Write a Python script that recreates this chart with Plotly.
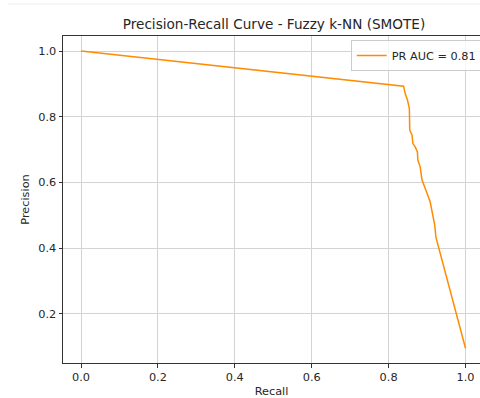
import plotly.graph_objects as go

recall = [0.000, 0.839, 0.843, 0.849, 0.854, 0.855, 0.861, 0.863, 0.869, 0.875,
          0.876, 0.882, 0.887, 0.894, 0.900, 0.908, 0.913, 0.920, 0.923, 1.000]
precision = [1.000, 0.893, 0.871, 0.851, 0.825, 0.759, 0.744, 0.719, 0.708, 0.693,
             0.668, 0.648, 0.607, 0.582, 0.567, 0.541, 0.506, 0.470, 0.433, 0.095]
pr_auc = 0.81
x_ticks = [0.0, 0.2, 0.4, 0.6, 0.8, 1.0]
y_ticks = [0.2, 0.4, 0.6, 0.8, 1.0]

FONT = "DejaVu Sans"
TXT = "#262626"

fig = go.Figure()
fig.add_trace(go.Scatter(
    x=recall, y=precision, mode="lines",
    line=dict(color="#ff8c00", width=1.5),
    name=f"PR AUC = {pr_auc:.2f}",
))

fig.update_layout(
    width=480, height=398,
    margin=dict(l=63, r=0, t=36, b=35, autoexpand=False),
    paper_bgcolor="white", plot_bgcolor="white",
    font=dict(family=FONT, size=11.3, color=TXT),
    title=dict(text="Precision-Recall Curve - Fuzzy k-NN (SMOTE)",
               x=(274 / 480), xanchor="center", y=1 - 24 / 398, yanchor="middle",
               font=dict(family=FONT, size=13.6, color=TXT)),
    showlegend=True,
    legend=dict(x=0.69, y=0.988, xanchor="left", yanchor="top",
                bgcolor="rgba(255,255,255,0.8)", bordercolor="#cccccc", borderwidth=1,
                font=dict(family=FONT, size=11.3, color=TXT),
                itemwidth=30, tracegroupgap=0),
    shapes=[dict(type="line", xref="paper", yref="paper",
                 x0=-0.132, x1=1.0, y0=1 + 32 / 327, y1=1 + 32 / 327,
                 line=dict(color="#eeeeee", width=1))],
)

fig.update_xaxes(
    range=[-0.0468, 1.0377], tickvals=x_ticks,
    ticktext=[f"{v:.1f}" for v in x_ticks], automargin=False,
    showgrid=True, gridcolor="#d3d3d3", gridwidth=0.8,
    zeroline=False, showline=True, linecolor="#333333", linewidth=1, mirror=True,
    ticks="outside", ticklen=3.5, tickcolor="#333333", tickwidth=0.8,
    title=dict(text="Recall", font=dict(family=FONT, size=11.3, color=TXT), standoff=4),
)
fig.update_yaxes(
    range=[0.05, 1.0457], tickvals=y_ticks,
    ticktext=[f"{v:.1f}" for v in y_ticks], automargin=False,
    showgrid=True, gridcolor="#d3d3d3", gridwidth=0.8,
    zeroline=False, showline=True, linecolor="#333333", linewidth=1, mirror=False,
    ticks="outside", ticklen=3.5, tickcolor="#333333", tickwidth=0.8,
    title=dict(text="Precision", font=dict(family=FONT, size=11.3, color=TXT), standoff=6),
)

fig.write_html("out.html")
